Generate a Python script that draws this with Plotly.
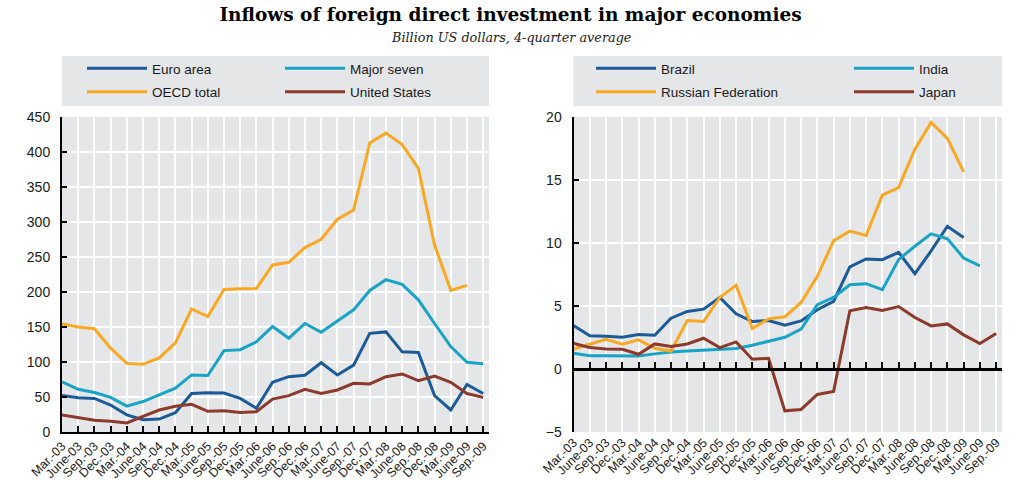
import plotly.graph_objects as go

quarters = ["Mar.-03", "June-03", "Sep.-03", "Dec.-03", "Mar.-04", "June-04", "Sep.-04", "Dec.-04",
            "Mar.-05", "June-05", "Sep.-05", "Dec.-05", "Mar.-06", "June-06", "Sep.-06", "Dec.-06",
            "Mar.-07", "June-07", "Sep.-07", "Dec.-07", "Mar.-08", "June-08", "Sep.-08", "Dec.-08",
            "Mar.-09", "June-09", "Sep.-09"]

# Left panel (billion USD)
euro_area = [52, 49, 48, 38.5, 24.5, 17.5, 18.5, 27.5, 55, 56, 55.7, 48, 34, 71, 79, 81, 99, 81.5,
             95.5, 141, 143, 114.5, 113.5, 52, 31.5, 68, 55]
major_seven = [71.5, 61, 56.5, 49.5, 37, 43.5, 53, 62.5, 81.5, 80.7, 116.3, 117.6, 128.8, 150.8, 134,
               155, 142.5, 158.3, 174.5, 202.2, 217.6, 211, 188.8, 155, 122, 99.5, 97.6]
oecd_total = [154.5, 150, 147.6, 119.8, 98, 96.7, 105.8, 127.3, 175.7, 164.9, 203.5, 204.8, 204.9,
              238.7, 242.5, 263.5, 275.4, 304, 317, 413, 427, 410.5, 376.5, 267, 202.4, 209.5, None]
united_states = [24.3, 20.5, 16.7, 15.2, 12.9, 22.4, 31.4, 36.7, 39.5, 29.5, 30.5, 28, 29, 47, 52, 61,
                 55, 60, 69.5, 68.6, 79, 82.9, 73.3, 80, 71, 55, 49.5]

# Right panel (billion USD)
brazil = [3.45, 2.63, 2.6, 2.52, 2.73, 2.68, 4.03, 4.57, 4.75, 5.68, 4.38, 3.77, 3.85, 3.48, 3.82, 4.7,
          5.36, 8.1, 8.73, 8.68, 9.26, 7.57, 9.37, 11.33, 10.43, None, None]
india = [1.25, 1.06, 1.06, 1.06, 1.04, 1.2, 1.35, 1.43, 1.49, 1.59, 1.62, 1.88, 2.2, 2.52, 3.16, 5.1,
         5.68, 6.69, 6.77, 6.29, 8.68, 9.74, 10.72, 10.33, 8.81, 8.18, None]
russia = [1.59, 2.0, 2.36, 1.96, 2.31, 1.65, 1.43, 3.85, 3.77, 5.68, 6.64, 3.21, 3.98, 4.14, 5.28, 7.35,
          10.19, 10.94, 10.59, 13.8, 14.39, 17.45, 19.57, 18.3, 15.64, None, None]
japan = [2.04, 1.7, 1.59, 1.57, 1.17, 1.99, 1.78, 1.99, 2.44, 1.7, 2.15, 0.77, 0.85, -3.32, -3.21,
         -2.02, -1.78, 4.62, 4.88, 4.65, 4.96, 4.09, 3.42, 3.58, 2.71, 2.02, 2.81]

DARK_BLUE = "#1b5b98"
CYAN = "#19a3c6"
ORANGE = "#f8a823"
BROWN = "#8c3a2c"
PLOT_BG = "#e5e6e8"
TXT = "#1a1a1a"

W, H = 1021, 482
def px_x(p): return p / W
def px_y(p): return 1 - p / H

fig = go.Figure()

left_series = [("Euro area", euro_area, DARK_BLUE, "legend"),
               ("Major seven", major_seven, CYAN, "legend2"),
               ("OECD total", oecd_total, ORANGE, "legend"),
               ("United States", united_states, BROWN, "legend2")]
right_series = [("Brazil", brazil, DARK_BLUE, "legend3"),
                ("India", india, CYAN, "legend4"),
                ("Russian Federation", russia, ORANGE, "legend3"),
                ("Japan", japan, BROWN, "legend4")]

for name, vals, col, lg in left_series:
    fig.add_trace(go.Scatter(x=quarters, y=vals, name=name, mode="lines",
                             line=dict(color=col, width=3), legend=lg, legendgroup=name,
                             xaxis="x", yaxis="y", hoverinfo="skip"))
for name, vals, col, lg in right_series:
    fig.add_trace(go.Scatter(x=quarters, y=vals, name=name, mode="lines",
                             line=dict(color=col, width=3), legend=lg, legendgroup=name,
                             xaxis="x2", yaxis="y2", hoverinfo="skip"))

# empty helper trace so the bottom label axis of the right panel is rendered
fig.add_trace(go.Scatter(x=list(range(len(quarters))), y=[None] * len(quarters), mode="lines",
                         xaxis="x3", yaxis="y2", showlegend=False, hoverinfo="skip"))

ydom = [px_y(432), px_y(117)]
xdom_l = [px_x(62), px_x(489)]
xdom_r = [px_x(573.5), px_x(1002)]
xr = [0, 26.36]

tickfont = dict(family="Liberation Sans, Arial, sans-serif", size=14, color=TXT)
xtickfont = dict(family="Liberation Sans, Arial, sans-serif", size=12.5, color=TXT)

common_x = dict(type="category", range=xr, showgrid=True, gridcolor="white", gridwidth=2,
                zeroline=False, automargin=False, fixedrange=True)

fig.update_layout(
    width=W, height=H,
    margin=dict(l=0, r=0, t=0, b=0),
    paper_bgcolor="white", plot_bgcolor=PLOT_BG,
    showlegend=True,
    xaxis=dict(**common_x, domain=xdom_l, anchor="y", showline=True, linecolor="black", linewidth=2,
               ticks="inside", ticklen=6, tickwidth=2, tickcolor="black", tickangle=-45,
               tickfont=xtickfont),
    yaxis=dict(domain=ydom, range=[0, 450], dtick=50, showgrid=True, gridcolor="white", gridwidth=2,
               zeroline=False, showline=True, linecolor="black", linewidth=2, ticks="inside",
               ticklen=5, tickwidth=2, tickcolor="black", tickfont=tickfont, anchor="x",
               ticklabelstandoff=7, automargin=False, fixedrange=True),
    xaxis2=dict(**common_x, domain=xdom_r, anchor="free", position=ydom[0] + 0.2 * (ydom[1] - ydom[0]),
                showline=True, linecolor="black", linewidth=3, ticks="inside", ticklen=6,
                tickwidth=2, tickcolor="black", showticklabels=False),
    xaxis3=dict(type="linear", overlaying="x2", anchor="y2", range=xr,
                tickmode="array", tickvals=list(range(len(quarters))), ticktext=quarters,
                showgrid=False, zeroline=False, showline=False, ticks="", tickangle=-45,
                tickfont=xtickfont, automargin=False, fixedrange=True),
    yaxis2=dict(domain=ydom, range=[-5, 20], dtick=5, showgrid=True, gridcolor="white", gridwidth=2,
                zeroline=False, showline=True, linecolor="black", linewidth=2, ticks="inside",
                ticklen=5, tickwidth=2, tickcolor="black", tickfont=tickfont, anchor="x2",
                ticklabelstandoff=7, automargin=False, fixedrange=True),
    title=dict(text="<b>Inflows of foreign direct investment in major economies</b>",
               x=0.5, xanchor="center", y=px_y(15), yanchor="middle",
               font=dict(family="DejaVu Serif, serif", size=18.5, color="black")),
)

fig.add_annotation(text="<i>Billion US dollars, 4-quarter average</i>", xref="paper", yref="paper",
                   x=0.5, y=px_y(38), xanchor="center", yanchor="middle", showarrow=False,
                   font=dict(family="DejaVu Serif, serif", size=12.8, color=TXT))

# legend background panels
for x0, x1 in [(62, 489), (573.5, 1002)]:
    fig.add_shape(type="rect", xref="paper", yref="paper", x0=px_x(x0), x1=px_x(x1),
                  y0=px_y(106), y1=px_y(56), fillcolor=PLOT_BG, line=dict(width=0), layer="below")

legfont = dict(family="Liberation Sans, Arial, sans-serif", size=13.5, color=TXT)
leg_common = dict(bgcolor="rgba(0,0,0,0)", font=legfont, itemwidth=60, tracegroupgap=3,
                  orientation="v", xanchor="left", yanchor="top", y=px_y(53), itemclick=False,
                  itemdoubleclick=False)
fig.update_layout(
    legend=dict(**leg_common, x=px_x(82)),
    legend2=dict(**leg_common, x=px_x(280)),
    legend3=dict(**leg_common, x=px_x(591)),
    legend4=dict(**leg_common, x=px_x(849)),
)

fig.write_html("out.html", config={"displayModeBar": False},
               post_script="document.body.style.margin='0';")
